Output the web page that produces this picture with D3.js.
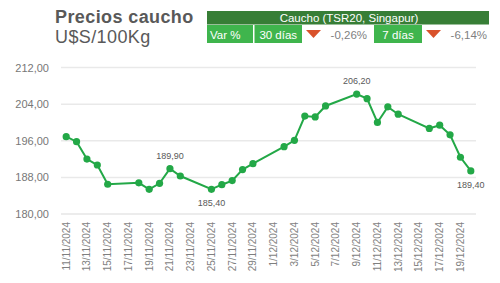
<!DOCTYPE html>
<head>
<meta charset="utf-8">
<title> Precios caucho </title>
<script type="text/javascript" src="https://cdn.jsdelivr.net/npm/d3@7/dist/d3.min.js"></script>
<style>
body { margin: 0; background: #fff; }
text { font-family: "Liberation Sans", Arial, sans-serif; }
</style>
</head>

<body>
<script>
// daily prices, dd/mm/yyyy (only trading days)
var dates = ["11/11/2024","12/11/2024","13/11/2024","14/11/2024","15/11/2024",
	"18/11/2024","19/11/2024","20/11/2024","21/11/2024","22/11/2024",
	"25/11/2024","26/11/2024","27/11/2024","28/11/2024","29/11/2024",
	"2/12/2024","3/12/2024","4/12/2024","5/12/2024","6/12/2024",
	"9/12/2024","10/12/2024","11/12/2024","12/12/2024","13/12/2024",
	"16/12/2024","17/12/2024","18/12/2024","19/12/2024","20/12/2024"];
var prices = [196.9, 195.8, 192.0, 190.7, 186.5,
	186.8, 185.4, 186.7, 189.9, 188.3,
	185.4, 186.4, 187.3, 189.7, 191.0,
	194.7, 196.1, 201.4, 201.2, 203.6,
	206.2, 205.2, 200.0, 203.4, 201.8,
	198.7, 199.4, 197.3, 192.4, 189.4];

// points that carry a data label
var labelsAbove = ["21/11/2024", "9/12/2024"];
var labelsBelow = ["25/11/2024", "20/12/2024"];

var yTicks = [180, 188, 196, 204, 212];

// header table
var headerTitle = "Caucho (TSR20, Singapur)";
var varLabel = "Var %";
var periods = ["30 días", "7 días"];
var changes = ["-0,26%", "-6,14%"];

var green = "#23a847";
var darkGreen = "#377e36";
var lightGreen = "#3fb54d";
var grey = "#595959";

var width = 500, height = 283;

var svg = d3.select("body").append("svg")
	.attr("width", width)
	.attr("height", height);

var parse = function(s) {
	var p = s.split("/");
	return new Date(Date.UTC(+p[2], +p[1] - 1, +p[0]));
};
var fmt = function(d) {
	return d.getUTCDate() + "/" + (d.getUTCMonth() + 1) + "/" + d.getUTCFullYear();
};
var num = function(v) { return v.toFixed(2).replace(".", ","); };

var data = dates.map(function(s, i) { return {date: parse(s), key: s, value: prices[i]}; });

var halfDay = 12 * 3600 * 1000;
var x = d3.scaleUtc()
	.domain([+data[0].date - halfDay, +data[data.length - 1].date + halfDay])
	.range([61, 476]);
var y = d3.scaleLinear()
	.domain([180, 212])
	.range([214, 67.5]);

// title
svg.append("text")
	.attr("x", 55).attr("y", 22.5)
	.style("font-size", "18px").style("font-weight", "bold")
	.style("letter-spacing", "0.4px")
	.style("fill", grey)
	.text("Precios caucho");
svg.append("text")
	.attr("x", 55).attr("y", 43)
	.style("font-size", "18px")
	.style("letter-spacing", "0.4px")
	.style("fill", grey)
	.text("U$S/100Kg");

// header table
svg.append("rect")
	.attr("x", 207).attr("y", 11).attr("width", 282).attr("height", 13.5)
	.style("fill", darkGreen);
svg.append("text")
	.attr("x", 349).attr("y", 21.5)
	.attr("text-anchor", "middle")
	.style("font-size", "11.5px").style("fill", "white")
	.text(headerTitle);

svg.append("rect")
	.attr("x", 207).attr("y", 25).attr("width", 46).attr("height", 18)
	.style("fill", lightGreen);
svg.append("text")
	.attr("x", 210).attr("y", 38.5)
	.style("font-size", "11.5px").style("fill", "white")
	.text(varLabel);

var cellX = [254.5, 374];
var cellW = [47.5, 48];
periods.forEach(function(p, i) {
	svg.append("rect")
		.attr("x", cellX[i]).attr("y", 25).attr("width", cellW[i]).attr("height", 18)
		.style("fill", lightGreen);
	svg.append("text")
		.attr("x", cellX[i] + cellW[i] / 2).attr("y", 38.5)
		.attr("text-anchor", "middle")
		.style("font-size", "11.5px").style("fill", "white")
		.text(p);
	var tx = cellX[i] + cellW[i] + 4;
	svg.append("path")
		.attr("d", "M" + tx + ",30 L" + (tx + 15) + ",30 L" + (tx + 7.5) + ",38 Z")
		.style("fill", "#d9522b");
	svg.append("text")
		.attr("x", cellX[i] + cellW[i] + 65).attr("y", 38.5)
		.attr("text-anchor", "end")
		.style("font-size", "11.5px").style("fill", "#7f7f7f")
		.text(changes[i]);
});

// gridlines
svg.selectAll(".grid")
	.data(yTicks.slice(1))
	.enter().append("line")
	.attr("x1", 61).attr("x2", 476)
	.attr("y1", function(d) { return y(d); })
	.attr("y2", function(d) { return y(d); })
	.style("stroke", "#e9e9e9").style("stroke-width", 1.5);

svg.append("line")
	.attr("x1", 61).attr("x2", 476)
	.attr("y1", y(180)).attr("y2", y(180))
	.style("stroke", "#d9d9d9").style("stroke-width", 1);

// y labels
svg.selectAll(".ylab")
	.data(yTicks)
	.enter().append("text")
	.attr("x", 49)
	.attr("y", function(d) { return y(d) + 4; })
	.attr("text-anchor", "end")
	.style("font-size", "11px").style("fill", "#777")
	.text(num);

// x labels
var ticks = x.ticks(d3.utcDay.every(2));
svg.selectAll(".xlab")
	.data(ticks)
	.enter().append("text")
	.attr("transform", function(d) { return "translate(" + x(d) + ",222) rotate(-90)"; })
	.attr("text-anchor", "end")
	.attr("dy", "0.35em")
	.style("font-size", "10px").style("fill", "#7f7f7f")
	.text(fmt);

// line
var line = d3.line()
	.x(function(d) { return x(d.date); })
	.y(function(d) { return y(d.value); });

svg.append("path")
	.datum(data)
	.attr("d", line)
	.style("fill", "none")
	.style("stroke", green)
	.style("stroke-width", 2);

svg.selectAll(".dot")
	.data(data)
	.enter().append("circle")
	.attr("cx", function(d) { return x(d.date); })
	.attr("cy", function(d) { return y(d.value); })
	.attr("r", 3.6)
	.style("fill", green);

// data labels
svg.selectAll(".lab")
	.data(data.filter(function(d) { return labelsAbove.includes(d.key) || labelsBelow.includes(d.key); }))
	.enter().append("text")
	.attr("x", function(d) { return x(d.date); })
	.attr("y", function(d) {
		return labelsAbove.includes(d.key) ? y(d.value) - 10 : y(d.value) + 17;
	})
	.attr("text-anchor", "middle")
	.style("font-size", "9px").style("fill", grey)
	.text(function(d) { return num(d.value); });
</script>
</body>
